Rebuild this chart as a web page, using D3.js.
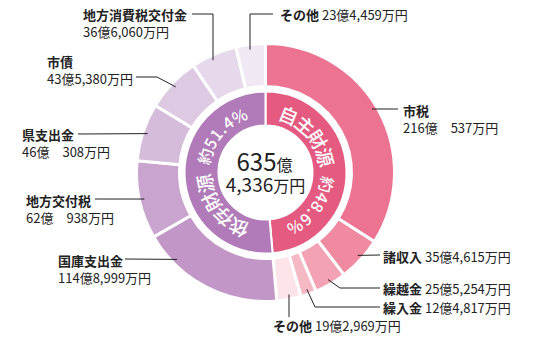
<!DOCTYPE html>
<html><head><meta charset="utf-8">
<script src="https://cdn.jsdelivr.net/npm/d3@7"></script>
<style>
html,body{margin:0;padding:0;background:#fff;}
svg{display:block;font-family:"Noto Sans CJK JP","Noto Sans",sans-serif;}
</style></head><body>
<svg id="chart" width="537" height="340"></svg>
<script>
// ---- data ----
const groupNames = ["自主財源", "依存財源"];
const groupPercents = ["約48.6%", "約51.4%"];
const itemNames = ["市税","諸収入","繰越金","繰入金","その他","国庫支出金","地方交付税","県支出金","市債","地方消費税交付金","その他"];
const itemGroups = [0,0,0,0,0,1,1,1,1,1,1];
const itemOku = [216,35,25,12,19,114,62,46,43,36,23];
const itemMan = [537,4615,5254,4817,2969,8999,938,308,5380,6060,4459];
const totalOku = 635, totalMan = 4336;

// ---- styles / layout ----
const innerColors = ["#e45a81","#b07bb8"];
const itemColors = ["#ec7391","#ef8aa1","#f2a2b4","#f5b9c6","#fce4e9","#c296c6","#c9a4ce","#d6bcdb","#ddc9e2","#e7d9ec","#f0e8f3"];
const cx = 265.5, cy = 172.5;
const rHole = 47, rInner = 81, rOuterIn = 86, rOuter = 129;
// label layout: text x, first line center y, one-line?, leader points after anchor, anchor angle offset (deg)
const labelLayout = [
  {x:403, y:110, one:false, pts:[[398,109]], off:-2},
  {x:383, y:256, one:true,  pts:[[380,255]], off:-0.5},
  {x:383, y:288, one:true,  pts:[[340,288],[380,288]], off:0},
  {x:383, y:307, one:true,  pts:[[315,307],[380,307]], off:0},
  {x:273, y:325, one:true,  pts:[[289,317]], off:0, vert:true},
  {x:58,  y:260, one:false, pts:[[125,259]], off:18},
  {x:26,  y:200, one:false, pts:[[95,199]], off:0},
  {x:22,  y:134, one:false, pts:[[78,134]], off:0},
  {x:47,  y:61,  one:false, pts:[[157,77],[136,77]], off:0},
  {x:83,  y:14,  one:false, pts:[[213,14],[192,14]], off:-1.5, vert:true},
  {x:280, y:14,  one:true,  pts:[[250,14],[273,14]], off:-1, vert:true}
];
const ringTextOffset = [-1, 2.5];

const fmt = d3.format(",");
function valueText(o, m){
  if (m < 1000) return o + "億　" + m + "万円";
  return o + "億" + fmt(m) + "万円";
}

const svg = d3.select("#chart");
const g = svg.append("g").attr("transform", `translate(${cx},${cy})`);

const values = itemOku.map((o,i)=> o + itemMan[i]/10000);
const groupTotals = [0,1].map(k => d3.sum(values.filter((v,i)=>itemGroups[i]===k)));

const pie = d3.pie().sort(null).startAngle(0).endAngle(2*Math.PI);
const outerArcs = pie(values);
const innerArcs = pie(groupTotals);

const arcOuter = d3.arc().innerRadius(rOuterIn).outerRadius(rOuter);
const arcInner = d3.arc().innerRadius(rHole).outerRadius(rInner);

g.selectAll("path.outer").data(outerArcs).join("path")
  .attr("class","outer")
  .attr("d", arcOuter)
  .attr("fill", (d,i)=>itemColors[i])
  .attr("stroke","#fff").attr("stroke-width",3);

g.selectAll("path.inner").data(innerArcs).join("path")
  .attr("class","inner")
  .attr("d", arcInner)
  .attr("fill", (d,i)=>innerColors[i])
  .attr("stroke","#fff").attr("stroke-width",2);

// ring text along circle path
const rText = 63;
const circ = 2*Math.PI*rText;
svg.append("defs").append("path").attr("id","ringPath")
  .attr("d", `M0,${-rText} A${rText},${rText} 0 1 1 0,${rText} A${rText},${rText} 0 1 1 0,${-rText}`);
innerArcs.forEach((d,i)=>{
  const mid = (d.startAngle + d.endAngle)/2 * 180/Math.PI + ringTextOffset[i];
  const t = g.append("text").attr("fill","#fff").attr("dominant-baseline","central").attr("font-weight",500);
  const tp = t.append("textPath").attr("href","#ringPath")
    .attr("startOffset", (mid/360*circ).toFixed(1))
    .attr("text-anchor","middle");
  tp.append("tspan").attr("font-size",19).attr("letter-spacing",0.5).text(groupNames[i]);
  tp.append("tspan").attr("font-size",16).attr("letter-spacing",1.5).text("\u00a0\u00a0" + groupPercents[i]);
});

// center total
const ct = g.append("text").attr("text-anchor","middle").attr("fill","#222");
ct.append("tspan").attr("x",-1).attr("y",-2).attr("font-size",24).text(totalOku);
ct.append("tspan").attr("font-size",16).text("億");
const ct2 = g.append("text").attr("text-anchor","middle").attr("fill","#222");
ct2.append("tspan").attr("x",0).attr("y",19).attr("font-size",19).text(fmt(totalMan));
ct2.append("tspan").attr("font-size",16).text("万円");

// labels & leader lines
const rAnchor = 124;
outerArcs.forEach((d,i)=>{
  const L = labelLayout[i];
  const a = (d.startAngle + d.endAngle)/2 + L.off*Math.PI/180;
  const ax = cx + rAnchor*Math.sin(a), ay = cy - rAnchor*Math.cos(a);
  let pts = [[ax,ay]].concat(L.pts);
  if (L.vert) pts[0] = [L.pts[0][0], ay];
  svg.append("path").attr("d", d3.line()(pts))
    .attr("fill","none").attr("stroke","#222").attr("stroke-width",1);
  const name = itemNames[i], val = valueText(itemOku[i], itemMan[i]);
  if (L.one){
    const t = svg.append("text").attr("x",L.x).attr("y",L.y).attr("dominant-baseline","central")
      .attr("font-size",13).attr("fill","#222");
    t.append("tspan").attr("font-weight",700).text(name);
    t.append("tspan").text(" " + val);
  } else {
    svg.append("text").attr("x",L.x).attr("y",L.y).attr("dominant-baseline","central")
      .attr("font-size",13).attr("font-weight",700).attr("fill","#222").text(name);
    svg.append("text").attr("x",L.x).attr("y",L.y+17).attr("dominant-baseline","central")
      .attr("font-size",13).attr("fill","#222").text(val);
  }
});
</script>
</body></html>
